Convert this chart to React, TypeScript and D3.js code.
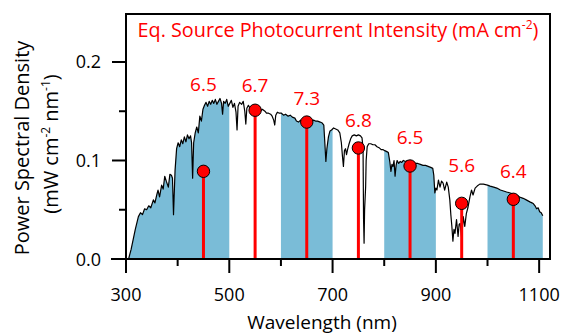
import React from "react";
import * as d3 from "d3";

// Solar spectrum (wavelength nm, power spectral density mW cm^-2 nm^-1)
const spectrum: [number, number][] = [
  [305, 0.0], [310, 0.01], [318, 0.03], [324, 0.043], [328, 0.047], [332, 0.045], [336, 0.051],
  [340, 0.05], [344, 0.054], [348, 0.052], [353, 0.06], [356, 0.057], [360, 0.066], [362, 0.07],
  [365, 0.063], [369, 0.075], [372, 0.071], [375, 0.084], [378, 0.079], [382, 0.073], [385, 0.086],
  [388, 0.085], [390, 0.082], [392, 0.045], [395, 0.09], [398, 0.112], [401, 0.118], [404, 0.114],
  [407, 0.121], [410, 0.117], [413, 0.124], [416, 0.119], [419, 0.126], [422, 0.122], [425, 0.125],
  [427, 0.118], [429, 0.082], [431, 0.118], [434, 0.128], [437, 0.134], [440, 0.128], [443, 0.145],
  [446, 0.14], [449, 0.152], [452, 0.156], [455, 0.159], [458, 0.155], [461, 0.16], [464, 0.157],
  [467, 0.161], [470, 0.158], [473, 0.162], [476, 0.157], [479, 0.16], [482, 0.163], [485, 0.158],
  [487, 0.147], [489, 0.16], [492, 0.158], [495, 0.162], [498, 0.155], [501, 0.158], [504, 0.161],
  [507, 0.154], [510, 0.158], [513, 0.149], [515, 0.131], [517, 0.155], [520, 0.159], [524, 0.157],
  [527, 0.16], [530, 0.15], [532, 0.137], [534, 0.153], [537, 0.156], [540, 0.153], [543, 0.155],
  [547, 0.152], [550, 0.154], [553, 0.151], [556, 0.153], [560, 0.15], [564, 0.152], [569, 0.15],
  [572, 0.148], [576, 0.148], [580, 0.147], [583, 0.145], [586, 0.141], [588, 0.136], [590, 0.146],
  [593, 0.149], [597, 0.148], [601, 0.148], [605, 0.146], [609, 0.147], [614, 0.145], [618, 0.146],
  [622, 0.144], [627, 0.143], [630, 0.14], [634, 0.139], [638, 0.141], [642, 0.139], [646, 0.138],
  [650, 0.137], [654, 0.139], [658, 0.14], [663, 0.141], [667, 0.14], [671, 0.14], [676, 0.139],
  [680, 0.138], [683, 0.136], [685, 0.118], [687, 0.099], [689, 0.112], [692, 0.124], [695, 0.13],
  [698, 0.131], [702, 0.133], [706, 0.132], [710, 0.131], [714, 0.128], [717, 0.118], [719, 0.105],
  [721, 0.094], [723, 0.11], [725, 0.112], [727, 0.106], [729, 0.111], [732, 0.117], [735, 0.122],
  [738, 0.125], [742, 0.126], [746, 0.125], [750, 0.126], [754, 0.125], [757, 0.123], [759, 0.112],
  [760, 0.04], [761, 0.016], [762, 0.05], [764, 0.073], [765, 0.1], [767, 0.114], [770, 0.117],
  [774, 0.117], [778, 0.116], [782, 0.116], [786, 0.114], [790, 0.113], [794, 0.111], [798, 0.111],
  [801, 0.11], [805, 0.109], [808, 0.108], [811, 0.098], [813, 0.089], [815, 0.096], [817, 0.094],
  [819, 0.1], [821, 0.084], [823, 0.095], [825, 0.1], [828, 0.097], [831, 0.099], [834, 0.098],
  [837, 0.1], [841, 0.099], [845, 0.1], [850, 0.099], [855, 0.098], [860, 0.097], [865, 0.097],
  [870, 0.096], [875, 0.095], [880, 0.095], [885, 0.094], [890, 0.093], [894, 0.092], [896, 0.085],
  [898, 0.067], [900, 0.072], [902, 0.07], [905, 0.08], [908, 0.073], [911, 0.079], [914, 0.077],
  [917, 0.07], [921, 0.078], [924, 0.073], [927, 0.06], [929, 0.045], [931, 0.033], [933, 0.018],
  [935, 0.03], [937, 0.026], [940, 0.04], [943, 0.023], [945, 0.035], [947, 0.036], [950, 0.021],
  [953, 0.043], [956, 0.033], [959, 0.046], [962, 0.052], [966, 0.063], [969, 0.07], [972, 0.065],
  [976, 0.072], [980, 0.074], [985, 0.076], [992, 0.076], [1000, 0.075], [1005, 0.074], [1012, 0.073],
  [1018, 0.072], [1025, 0.07], [1031, 0.069], [1037, 0.068], [1044, 0.067], [1050, 0.066],
  [1056, 0.065], [1062, 0.063], [1069, 0.0616], [1075, 0.06], [1082, 0.058], [1086, 0.057],
  [1089, 0.056], [1092, 0.054], [1095, 0.051], [1098, 0.052], [1101, 0.048], [1104, 0.047], [1107, 0.044],
];

// Equivalent-source points
const sourceWavelengths = [450, 550, 650, 750, 850, 950, 1050];
const sourcePower = [0.089, 0.151, 0.139, 0.1127, 0.0944, 0.0565, 0.0606];
const photocurrent = ["6.5", "6.7", "7.3", "6.8", "6.5", "5.6", "6.4"];
const labelLevels = [0.1706, 0.1695, 0.156, 0.134, 0.1168, 0.0883, 0.0822];

// Shaded bands (nm)
const bands: [number, number][] = [[300, 500], [600, 700], [800, 900], [1000, 1121]];

const xMajorTicks = [300, 500, 700, 900, 1100];
const xMinorTicks = [400, 600, 800, 1000];
const yMajorTicks = [0, 0.1, 0.2];
const yMinorTicks = [0.05, 0.15];

const FONT = "'Open Sans', 'Noto Sans', sans-serif";
const RED = "#ff0000";
const BLUE = "#7abcd7";

export default function App() {
  const x = d3.scaleLinear().domain([300, 1121]).range([126, 550]);
  const y = d3.scaleLinear().domain([0, 0.2487]).range([259, 14]);

  const area = d3
    .area<[number, number]>()
    .x((d) => x(d[0]))
    .y0(y(0))
    .y1((d) => y(d[1]));
  const line = d3
    .line<[number, number]>()
    .x((d) => x(d[0]))
    .y((d) => y(d[1]));

  const [x0, x1] = x.range();
  const [yb, yt] = y.range();
  const fmt = d3.format(".1f");

  return (
    <svg
      width={565}
      height={335}
      style={{ position: "absolute", left: 0, top: 0, background: "#fff" }}
      fontFamily={FONT}
    >
      <defs>
        <clipPath id="bandsClip">
          {bands.map(([a, b], i) => (
            <rect key={i} x={x(a)} y={yt} width={x(b) - x(a)} height={yb - yt} />
          ))}
        </clipPath>
      </defs>

      <path d={area(spectrum) || ""} fill={BLUE} clipPath="url(#bandsClip)" />
      <path d={line(spectrum) || ""} fill="none" stroke="#000" strokeWidth={1.2} strokeLinejoin="round" />

      {sourceWavelengths.map((w, i) => (
        <g key={w}>
          <line x1={x(w)} x2={x(w)} y1={y(0)} y2={y(sourcePower[i])} stroke={RED} strokeWidth={3} />
          <circle cx={x(w)} cy={y(sourcePower[i])} r={6.2} fill={RED} stroke="#000" strokeWidth={1} />
          <text x={x(w)} y={y(labelLevels[i])} fill={RED} fontSize={19} textAnchor="middle">
            {photocurrent[i]}
          </text>
        </g>
      ))}

      {/* frame */}
      <line x1={x0} x2={x0} y1={yt} y2={yb} stroke="#000" strokeWidth={2} />
      <line x1={x0 - 15} x2={x1 + 1} y1={yb} y2={yb} stroke="#000" strokeWidth={2} />
      <line x1={x0 - 1} x2={x1 + 1} y1={yt} y2={yt} stroke="#000" strokeWidth={2} />
      <line x1={x1} x2={x1} y1={yt} y2={yb} stroke="#000" strokeWidth={2} />

      {xMajorTicks.map((t) => (
        <g key={t}>
          <line x1={x(t)} x2={x(t)} y1={yb} y2={yb + 14} stroke="#000" strokeWidth={2} />
          <text x={x(t)} y={301} fontSize={18} textAnchor="middle">
            {t}
          </text>
        </g>
      ))}
      {xMinorTicks.map((t) => (
        <line key={t} x1={x(t)} x2={x(t)} y1={yb} y2={yb + 7} stroke="#000" strokeWidth={2} />
      ))}
      {yMajorTicks.map((t) => (
        <g key={t}>
          <line x1={x0 - 14} x2={x0} y1={y(t)} y2={y(t)} stroke="#000" strokeWidth={2} />
          <text x={101} y={y(t) + 6.5} fontSize={18} textAnchor="end">
            {fmt(t)}
          </text>
        </g>
      ))}
      {yMinorTicks.map((t) => (
        <line key={t} x1={x0 - 7} x2={x0} y1={y(t)} y2={y(t)} stroke="#000" strokeWidth={2} />
      ))}

      <text x={338} y={37} fill={RED} fontSize={19.8} textAnchor="middle">
        Eq. Source Photocurrent Intensity (mA cm
        <tspan dy={-8} fontSize={12}>-2</tspan>
        <tspan dy={8}>)</tspan>
      </text>

      <text x={322} y={329} fontSize={19} textAnchor="middle">
        Wavelength (nm)
      </text>

      <g transform="translate(29,148) rotate(-90)">
        <text x={0} y={0} fontSize={20} textAnchor="middle">
          Power Spectral Density
        </text>
      </g>
      <g transform="translate(58,144) rotate(-90)">
        <text x={0} y={0} fontSize={20} textAnchor="middle">
          (mW cm
          <tspan dy={-8} fontSize={12}>-2</tspan>
          <tspan dy={8}> nm</tspan>
          <tspan dy={-8} fontSize={12}>-1</tspan>
          <tspan dy={8}>)</tspan>
        </text>
      </g>
    </svg>
  );
}
